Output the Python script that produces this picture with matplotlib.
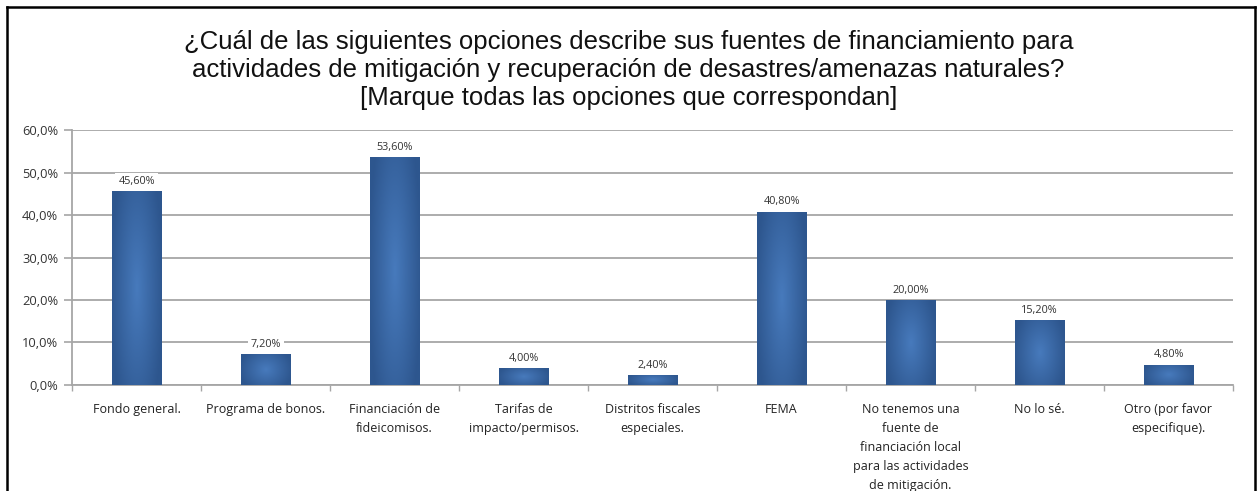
import numpy as np
import matplotlib.pyplot as plt
from matplotlib.lines import Line2D

categorias = ["Fondo general.", "Programa de bonos.", "Financiación de\nfideicomisos.",
              "Tarifas de\nimpacto/permisos.", "Distritos fiscales\nespeciales.", "FEMA",
              "No tenemos una\nfuente de\nfinanciación local\npara las actividades\nde mitigación.",
              "No lo sé.", "Otro (por favor\nespecifique)."]
porcentajes = [45.6, 7.2, 53.6, 4.0, 2.4, 40.8, 20.0, 15.2, 4.8]
yticks = [0, 10, 20, 30, 40, 50, 60]

titulo = ("¿Cuál de las siguientes opciones describe sus fuentes de financiamiento para\n"
          "actividades de mitigación y recuperación de desastres/amenazas naturales?\n"
          "[Marque todas las opciones que correspondan]")

def coma(v, dec):
    return f"{v:.{dec}f}".replace(".", ",") + "%"

fig = plt.figure(figsize=(12.57, 4.91), dpi=100)
ax = fig.add_axes([0.0573, 0.2159, 0.9236, 0.5193])

x = np.arange(len(categorias))
ancho = 0.385
barras = ax.bar(x, porcentajes, width=ancho, color="#3a68a6", zorder=3)

# degradado: mas claro en el centro de cada barra
gx = np.linspace(-1, 1, 60)
gy = np.linspace(-1, 1, 60)
GX, GY = np.meshgrid(gx, gy)
r = np.clip(np.sqrt(GX**2 * 0.9 + GY**2 * 0.45), 0, 1)
claro = np.array([0.28, 0.48, 0.74])
oscuro = np.array([0.18, 0.34, 0.56])
grad = claro[None, None, :] * (1 - r[..., None]) + oscuro[None, None, :] * r[..., None]
for b in barras:
    x0, h = b.get_x(), b.get_height()
    im = ax.imshow(grad, extent=[x0, x0 + ancho, 0, h], aspect="auto", zorder=4, interpolation="bilinear")
    im.set_clip_path(b)
    ax.text(b.get_x() + ancho / 2, h + 1.0, coma(h, 2), ha="center", va="bottom",
            fontsize=7.8, color="#333333", family="Open Sans", zorder=5,
            bbox=dict(facecolor="white", edgecolor="none", pad=2))

ax.set_xlim(-0.5, len(categorias) - 0.5)
ax.set_ylim(0, 60)
ax.set_yticks(yticks)
ax.set_yticklabels([coma(v, 1) for v in yticks], fontsize=9.3, color="#333333", family="Open Sans")
ax.yaxis.grid(True, color="#a6a6a6", lw=1.3, zorder=0)
ax.tick_params(axis="y", length=6, color="#a6a6a6", width=1.2, pad=4)

ax.set_xticks(x)
ax.set_xticklabels(categorias, fontsize=9, color="#222222", family="Open Sans", linespacing=1.6)
ax.tick_params(axis="x", length=0, pad=13)
ax.set_xticks(np.arange(len(categorias) + 1) - 0.5, minor=True)
ax.tick_params(axis="x", which="minor", length=4, color="#a6a6a6", width=1)

for s in ["top", "right"]:
    ax.spines[s].set_visible(False)
for s in ["left", "bottom"]:
    ax.spines[s].set_color("#a6a6a6")
    ax.spines[s].set_linewidth(1.3)

fig.text(0.5, 0.857, titulo, ha="center", va="center", fontsize=18.5, family="Liberation Sans",
         color="#111111", linespacing=1.22)

# marco negro alrededor del grafico
for xs, ys in [([0.0056, 0.0056], [0, 0.986]), ([0.0056, 0.9984], [0.986, 0.986]),
               ([0.9984, 0.9984], [0, 0.986])]:
    fig.add_artist(Line2D(xs, ys, color="black", lw=1.8, transform=fig.transFigure))

fig.savefig("out.png", dpi=100)
